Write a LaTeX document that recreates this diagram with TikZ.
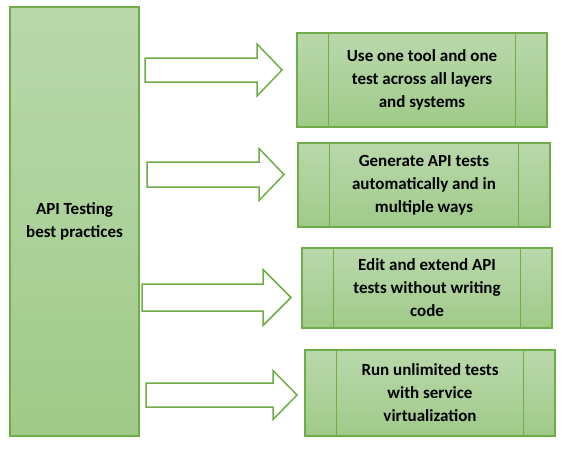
\documentclass[tikz,border=0pt]{standalone}
\usepackage{fontspec}
\setmainfont{Carlito}
\usepackage{xcolor}
\usetikzlibrary{positioning}
\definecolor{bpBorder}{RGB}{112,173,71}
\definecolor{bpTop}{RGB}{185,216,171}
\definecolor{bpBottom}{RGB}{160,202,137}

% block arrow: name, start x, head x, tip x, centre y, shaft half, head half
\newcommand{\bparrow}[7]{%
  \draw[blockarr] (#2,#5-#6) coordinate (#1) -- (#3,#5-#6) -- (#3,#5-#7) -- (#4,#5)
    -- (#3,#5+#7) -- (#3,#5+#6) -- (#2,#5+#6) -- cycle;}

\begin{document}
\begin{tikzpicture}[
    x=1pt, y=-1pt,
    panel/.style={draw=bpBorder, line width=2pt, top color=bpTop, bottom color=bpBottom,
      align=center, font=\fontsize{17}{23}\selectfont\bfseries, inner sep=0pt},
    practice/.style={panel, minimum width=250pt,
      path picture={
        \draw[bpBorder, line width=1.6pt]
          ([xshift=31.5pt]path picture bounding box.north west) --
          ([xshift=31.5pt]path picture bounding box.south west);
        \draw[bpBorder, line width=1.6pt]
          ([xshift=-31.5pt]path picture bounding box.north east) --
          ([xshift=-31.5pt]path picture bounding box.south east);}},
    blockarr/.style={draw=bpBorder, fill=white, line width=1.5pt, line join=miter}
  ]
    \useasboundingbox (0,0) rectangle (565,453);
    \node[panel, minimum width=129pt, minimum height=429pt] (topic) at (74.5,221.5)
      {API Testing\\best practices};
    \node[practice, minimum height=94pt] (p1) at (422,80)
      {Use one tool and one\\test across all layers\\and systems};
    \node[practice, minimum width=252pt, minimum height=84pt] (p2) at (424,185)
      {Generate API tests\\automatically and in\\multiple ways};
    \node[practice, minimum height=80pt] (p3) at (427,288)
      {Edit and extend API\\tests without writing\\code};
    \node[practice, minimum height=86pt] (p4) at (430,393)
      {Run unlimited tests\\with service\\virtualization};
    \bparrow{a1}{145}{257}{282}{70}{12}{26}
    \bparrow{a2}{147}{259}{284}{174.5}{12.5}{26}
    \bparrow{a3}{142}{263}{291}{297.5}{13.5}{28}
    \bparrow{a4}{146}{273}{297}{395}{12}{24.5}
  \end{tikzpicture}
\end{document}
